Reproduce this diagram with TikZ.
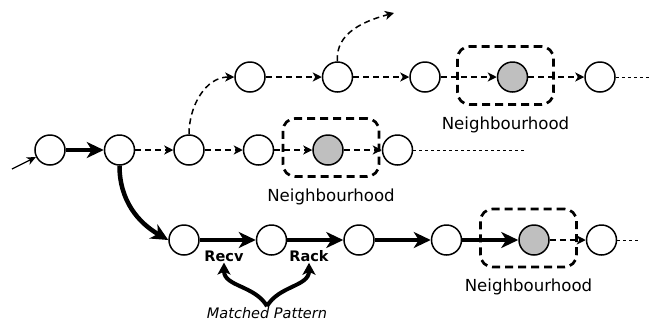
\documentclass[tikz,border=0pt]{standalone}
\usepackage{fontspec}
\setmainfont{DejaVu Sans}
\usetikzlibrary{positioning,arrows.meta}
\tikzset{
	state/.style={
		circle,
		draw=black, line width=1.5pt,
		fill=white,
		minimum size=30pt,
		inner sep=0pt},
	visited/.style={state, fill=black!25},
	hood/.style={
		rectangle,
		rounded corners=12pt,
		draw=black, line width=2.7pt,
		dash pattern=on 8pt off 5pt,
		minimum width=96pt,
		minimum height=58pt},
	hoodlabel/.style={font=\fontsize{16.6}{20}\selectfont, inner sep=1pt},
	msglabel/.style={font=\fontsize{14.5}{17}\selectfont\bfseries, inner sep=1pt},
	patlabel/.style={font=\fontsize{14.5}{17}\selectfont\itshape, inner sep=1pt},
	bold/.style={draw, line width=4.5pt, -{Stealth[length=17pt,width=16pt,inset=5pt]}},
	probe/.style={draw, line width=1.5pt, dash pattern=on 6pt off 4pt,
		-{Stealth[length=9pt,width=9pt,inset=2.5pt]}},
	tail/.style={draw, line width=1pt, dash pattern=on 3pt off 3pt},
}

\begin{document}
\begin{tikzpicture}
	[x=1pt, y=1pt,
	node distance=38pt]
	\useasboundingbox (0,0) rectangle (651,-325);
	% middle row
	\node[state] (A) at (50,-150) {};
	\node[state, right=of A] (B) {};
	\node[state, right=of B] (C) {};
	\node[state, right=of C] (D) {};
	\node[visited, right=of D] (E) {};
	\node[state, right=of E] (F) {};
	\coordinate (Fend) at (527,-150);
	\coordinate (start) at (12,-169);
	% top row
	\node[state] (T1) at (250,-77) {};
	\node[state, right=56pt of T1] (T2) {};
	\node[state, right=56pt of T2] (T3) {};
	\node[visited, right=56pt of T3] (T4) {};
	\node[state, right=56pt of T4] (T5) {};
	\coordinate (Tend) at (651,-77);
	\coordinate (Tup) at (394,-13);
	% bottom row
	\node[state] (U1) at (184,-240) {};
	\node[state, right=56pt of U1] (U2) {};
	\node[state, right=56pt of U2] (U3) {};
	\node[state, right=56pt of U3] (U4) {};
	\node[visited, right=56pt of U4] (U5) {};
	\node[state, right=36pt of U5] (U6) {};
	\coordinate (Uend) at (640,-240);

	% neighbourhoods
	\node[hood, xshift=3pt, yshift=2.5pt] (H1) at (E) {};
	\node[hood, xshift=-7pt, yshift=1.5pt] (H2) at (T4) {};
	\node[hood, xshift=-5.5pt, yshift=2pt] (H3) at (U5) {};
	\node[hoodlabel, below=10pt of H1] {Neighbourhood};
	\node[hoodlabel, below=10pt of H2] {Neighbourhood};
	\node[hoodlabel, below=9pt of H3] {Neighbourhood};

	% middle edges
	\draw[line width=1.2pt, -{Stealth[length=9pt,width=8pt,inset=2.5pt]}] (start) -- (A);
	\path[bold] (A) -- (B);
	\path[probe] (B) -- (C);
	\path[probe] (C) -- (D);
	\path[probe] (D) -- (E);
	\path[probe] (E) -- (F);
	\path[tail] (F) -- (Fend);

	% top edges
	\path[probe] (C.north) to[out=90, in=180] (T1.west);
	\path[probe] (T1) -- (T2);
	\path[probe] (T2) -- (T3);
	\path[probe] (T3) -- (T4);
	\path[probe] (T4) -- (T5);
	\path[tail] (T5) -- (Tend);
	\path[probe] (T2.north) to[out=95, in=195] (Tup);

	% bottom edges
	\path[bold] (B.south) to[out=-90, in=150] (U1.west);
	\path[bold] (U1) -- (U2);
	\path[bold] (U2) -- (U3);
	\path[bold] (U3) -- (U4);
	\path[bold] (U4) -- (U5);
	\path[probe] (U5) -- (U6);
	\path[tail] (U6) -- (Uend);

	% matched pattern
	\node[msglabel] (recv) at (224,-256) {Recv};
	\node[msglabel] (rack) at (309,-256) {Rack};
	\node[patlabel] (pat) at (267,-313) {Matched Pattern};
	\path[draw, line width=4pt, -{Stealth[length=12pt,width=13pt,inset=3pt]}]
		(pat.north) to[out=120, in=-90] (recv.south);
	\path[draw, line width=4pt, -{Stealth[length=12pt,width=13pt,inset=3pt]}]
		(pat.north) to[out=60, in=-90] (rack.south);
\end{tikzpicture}
\end{document}
